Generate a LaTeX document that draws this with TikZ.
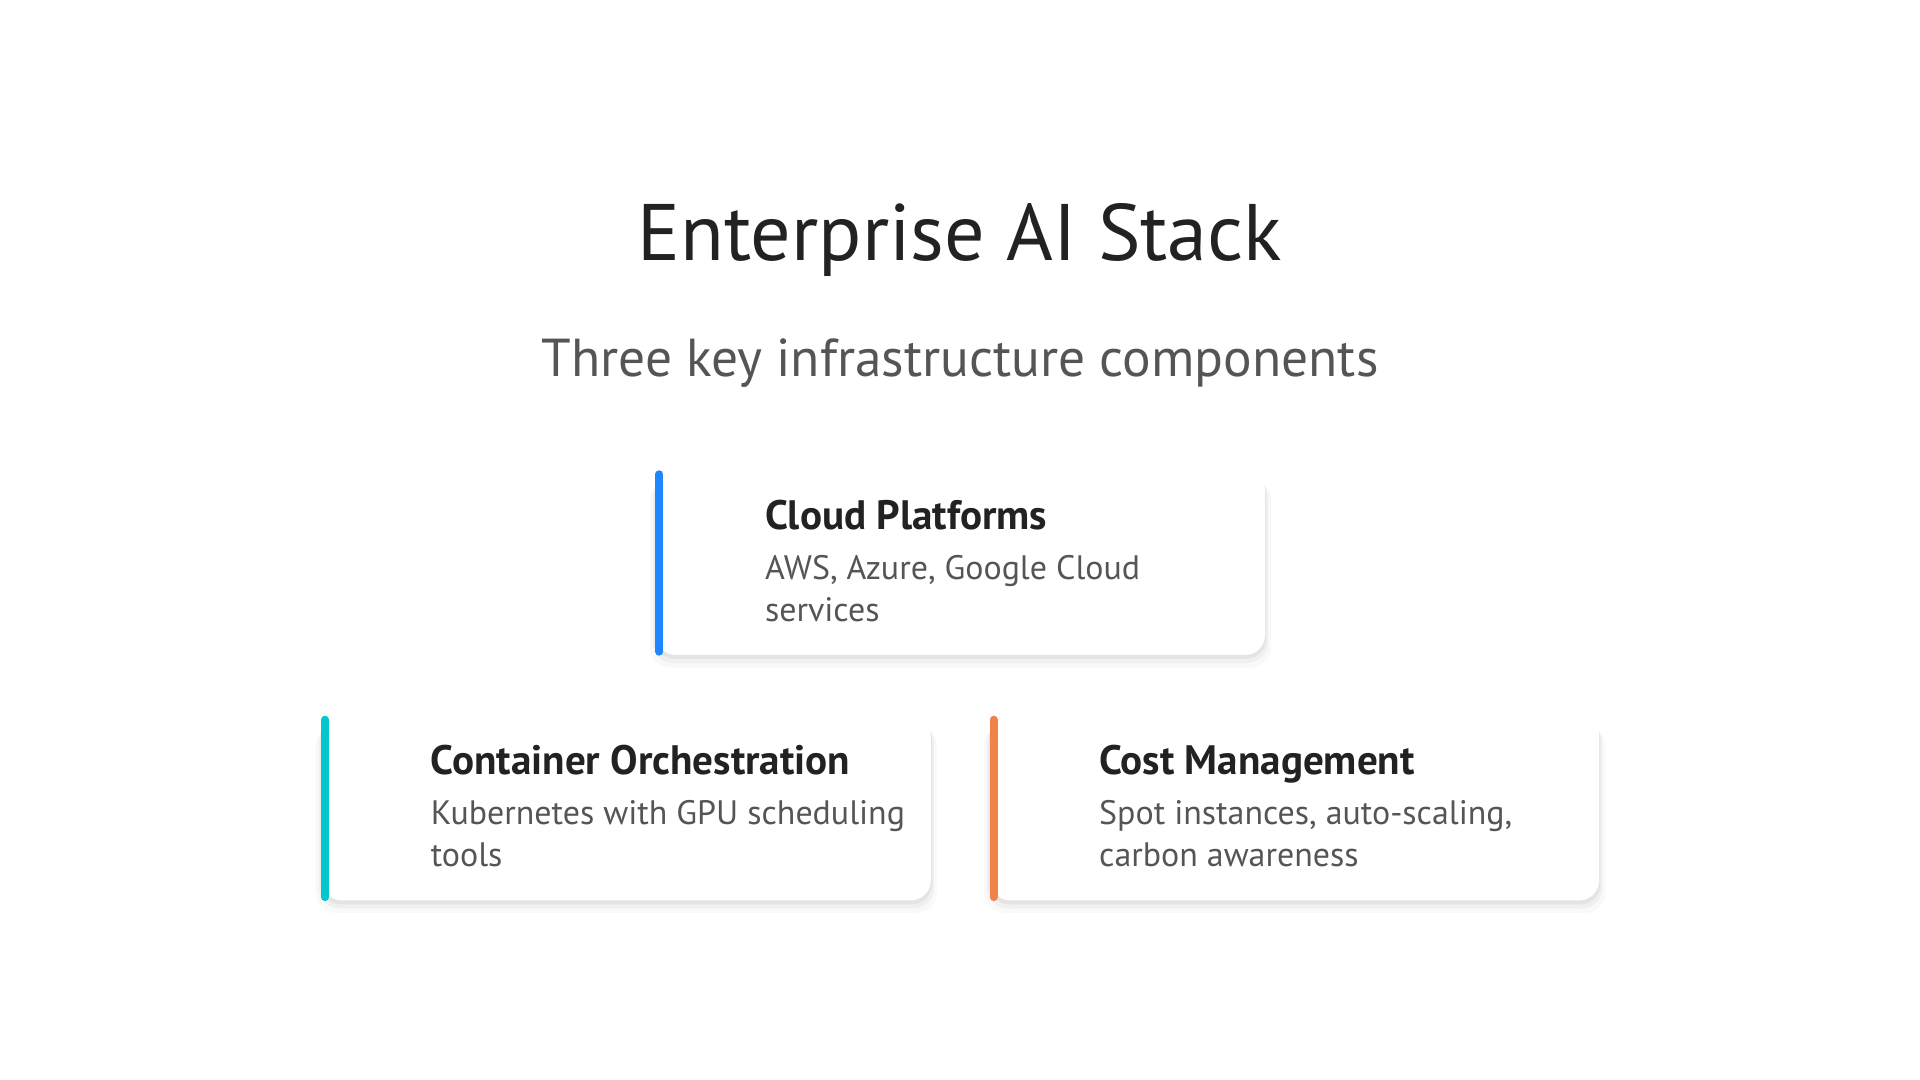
\documentclass[tikz,border=0pt]{standalone}
\usepackage{fontspec}
\setmainfont{PT Sans}
\usetikzlibrary{positioning,shadows}

\definecolor{inkdark}{HTML}{222222}
\definecolor{inkgray}{HTML}{555555}
\definecolor{cloudblue}{HTML}{1E86FF}
\definecolor{orchcyan}{HTML}{00C8CC}
\definecolor{costorange}{HTML}{F0834A}

\begin{document}
\begin{tikzpicture}[
card/.style={fill=white, rounded corners=0.2cm, minimum width=6.09cm, minimum height=1.84cm, inner sep=0pt,
  drop shadow={shadow xshift=0pt, shadow yshift=-3pt, shadow scale=1.02, opacity=0.025, fill=black},
  drop shadow={shadow xshift=0pt, shadow yshift=-2pt, shadow scale=1.01, opacity=0.035, fill=black},
  drop shadow={shadow xshift=0pt, shadow yshift=-1pt, shadow scale=1.004, opacity=0.05, fill=black}},
accent/.style={line width=0.08cm, line cap=round},
head/.style={anchor=base west, inner sep=0pt, text=inkdark, font=\fontsize{11.7}{14}\selectfont\bfseries},
desc/.style={anchor=base west, inner sep=0pt, align=left, text=inkgray, font=\fontsize{9.65}{11.95}\selectfont}
]
\useasboundingbox (0,0) rectangle (19.2,10.8);

% heading
\node[anchor=base, inner sep=0pt, text=inkdark, font=\fontsize{22.8}{27}\selectfont] (title) at (9.6,8.19) {Enterprise AI Stack};
\node[anchor=base, inner sep=0pt, text=inkgray, font=\fontsize{15.2}{18}\selectfont] (subtitle) at (9.6,7.03) {Three key infrastructure components};

% cards
\node[card] (cloud) at (9.605,5.17) {};
\node[card, below left=0.6cm and 0.29cm of cloud.south] (orch) {};
\node[card, below right=0.6cm and 0.29cm of cloud.south] (cost) {};

\draw[accent, draw=cloudblue] ([xshift=0.04cm, yshift=-0.04cm]cloud.north west) -- ([xshift=0.04cm, yshift=0.04cm]cloud.south west);
\draw[accent, draw=orchcyan] ([xshift=0.04cm, yshift=-0.04cm]orch.north west) -- ([xshift=0.04cm, yshift=0.04cm]orch.south west);
\draw[accent, draw=costorange] ([xshift=0.04cm, yshift=-0.04cm]cost.north west) -- ([xshift=0.04cm, yshift=0.04cm]cost.south west);

% card texts (desc is placed by its last line)
\node[head] (cloudhead) at ([xshift=1.09cm, yshift=-0.59cm]cloud.north west) {Cloud Platforms};
\node[desc] (clouddesc) at ([xshift=1.09cm, yshift=-1.51cm]cloud.north west) {AWS, Azure, Google Cloud\\services};

\node[head] (orchhead) at ([xshift=1.09cm, yshift=-0.59cm]orch.north west) {Container Orchestration};
\node[desc] (orchdesc) at ([xshift=1.09cm, yshift=-1.51cm]orch.north west) {Kubernetes with GPU scheduling\\tools};

\node[head] (costhead) at ([xshift=1.09cm, yshift=-0.59cm]cost.north west) {Cost Management};
\node[desc] (costdesc) at ([xshift=1.09cm, yshift=-1.51cm]cost.north west) {Spot instances, auto-scaling,\\carbon awareness};
\end{tikzpicture}
\end{document}
